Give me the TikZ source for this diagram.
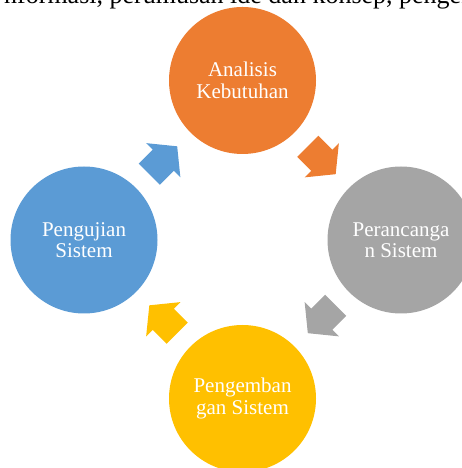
\documentclass[tikz,border=0pt]{standalone}
\usepackage{fontspec}
\setmainfont{Liberation Serif}
\usetikzlibrary{calc}
\definecolor{cOrange}{HTML}{ED7D31}
\definecolor{cGray}{HTML}{A5A5A5}
\definecolor{cYellow}{HTML}{FFC000}
\definecolor{cBlue}{HTML}{5B9BD5}
\begin{document}
\begin{tikzpicture}[x=1pt,y=1pt,
  stage/.style={circle,minimum size=147pt,inner sep=0pt,text=white,align=center,
    font=\fontsize{21}{21.5}\selectfont},
  pics/cyclearrow/.style={code={\fill[#1] (-19.7,-15) -- (0,-15) -- (0,-24.2) -- (19.7,0) -- (0,24.2) -- (0,15) -- (-19.7,15) -- cycle;}}]
\clip (0,0) rectangle (462,468);
\useasboundingbox (0,0) rectangle (462,468);
\node[anchor=base west,font=\fontsize{26}{30}\selectfont,inner sep=0pt] (ctx) at (4,464) {nformasi, perumusan ide dan konsep, pengembangan};
\node[stage,fill=cOrange] (ana) at (242.5,387.5) {Analisis\\Kebutuhan};
\node[stage,fill=cGray] (per) at (401,228) {Perancanga\\n Sistem};
\node[stage,fill=cYellow] (pen) at (242.5,69.5) {Pengemban\\gan Sistem};
\node[stage,fill=cBlue] (uji) at (84,228) {Pengujian\\Sistem};
\pic[rotate=-45] at ($(ana)!0.5!(per)$) {cyclearrow=cOrange};
\pic[rotate=-135] at ($(per)!0.5!(pen)$) {cyclearrow=cGray};
\pic[rotate=135] at ($(pen)!0.5!(uji)$) {cyclearrow=cYellow};
\pic[rotate=45] at ($(uji)!0.5!(ana)$) {cyclearrow=cBlue};
\end{tikzpicture}
\end{document}
